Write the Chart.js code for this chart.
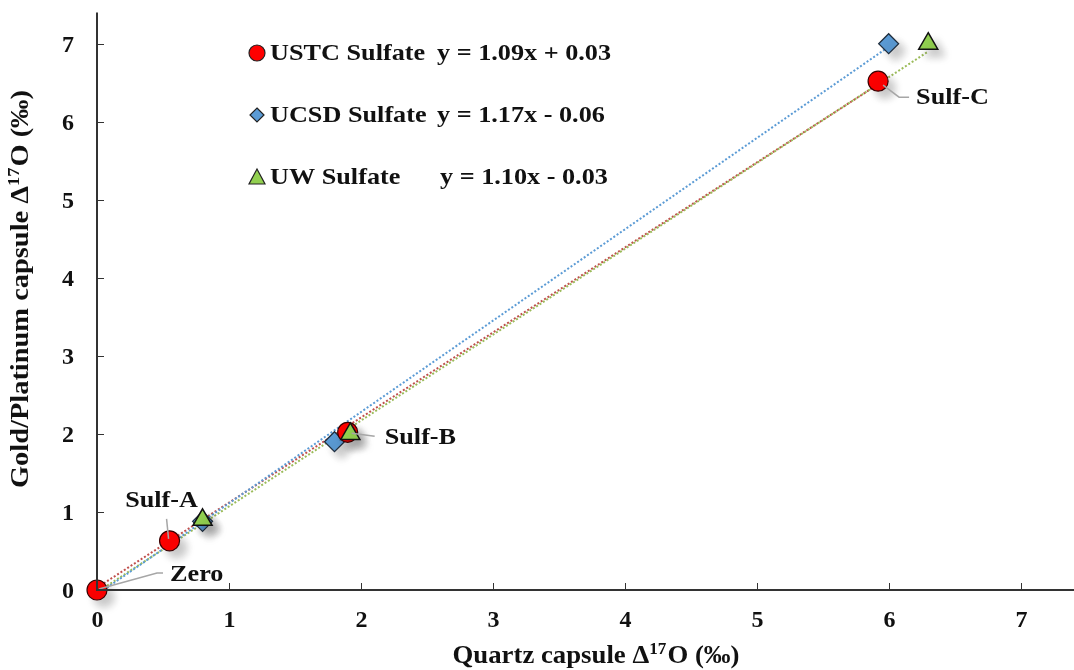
<!DOCTYPE html>
<html>
<head>
<meta charset="utf-8">
<script src="https://cdn.jsdelivr.net/npm/chart.js@4"></script>
<style>
  body { margin: 0; background: #fff; }
</style>
</head>
<body>
<canvas id="chart" width="1074" height="670"></canvas>
<script>
// values
let ustcX = [0, 0.55, 1.9, 5.92];
let ustcY = [0, 0.63, 2.02, 6.52];
let ucsdX = [0.8, 1.8, 6.0];
let ucsdY = [0.88, 1.9, 7.0];
let uwX   = [0.8, 1.92, 6.3];
let uwY   = [0.9, 2.0, 7.0];

// trendline ends (start / end of each dotted line)
let ustcFitX = [0, 5.92];
let ustcFitY = [0.03, 6.48];
let ucsdFitX = [0, 6.0];
let ucsdFitY = [-0.06, 6.96];
let uwFitX   = [0, 6.3];
let uwFitY   = [-0.03, 6.9];

let legendNames = ["USTC Sulfate", "UCSD Sulfate", "UW Sulfate"];
let legendEqs   = ["y = 1.09x + 0.03", "y = 1.17x - 0.06", "y = 1.10x - 0.03"];
let sampleNames = ["Zero", "Sulf-A", "Sulf-B", "Sulf-C"];

let xTicks = [0, 1, 2, 3, 4, 5, 6, 7];
let yTicks = [0, 1, 2, 3, 4, 5, 6, 7];
let xTitle = ["Quartz capsule \u0394", "17", "O (\u2030)"];
let yTitle = ["Gold/Platinum capsule \u0394", "17", "O (\u2030)"];

const serif = "'Liberation Serif', 'Times New Roman', serif";

function pts(xs, ys){
    return xs.map((x, i) => ({x: x, y: ys[i]}));
}

// text drawn a bit wider than the font, like the picture
function wideText(ctx, txt, x, y, sx, align){
    ctx.save();
    const w = ctx.measureText(txt).width * sx;
    let x0 = x;
    if (align === 'center') x0 = x - w / 2;
    if (align === 'right') x0 = x - w;
    ctx.translate(x0, y);
    ctx.scale(sx, 1);
    ctx.textAlign = 'left';
    ctx.fillText(txt, 0, 0);
    ctx.restore();
}

// title with superscript, centred at (0,0) of the current transform, fit to a width
function titleText(ctx, parts, width){
    const big = "bold 25px " + serif, small = "bold 16px " + serif;
    ctx.font = big;
    const w0 = ctx.measureText(parts[0]).width;
    const w2 = ctx.measureText(parts[2]).width;
    ctx.font = small;
    const w1 = ctx.measureText(parts[1]).width + 1;
    const total = w0 + w1 + w2;
    const sx = width / total;
    ctx.save();
    ctx.scale(sx, 1);
    let x = -total / 2;
    ctx.textAlign = 'left';
    ctx.textBaseline = 'middle';
    ctx.font = big;
    ctx.fillText(parts[0], x, 0);
    x += w0;
    ctx.font = small;
    ctx.fillText(parts[1], x, -7);
    x += w1;
    ctx.font = big;
    ctx.fillText(parts[2], x, 0);
    ctx.restore();
}

/**
 * soft grey shadow under the markers, like the office chart
 */
const shadowPlugin = {
    id: 'shadow',
    beforeDatasetDraw(chart, args){
        const ds = chart.data.datasets[args.index];
        chart.ctx.save();
        if (ds.isMarker) {
            chart.ctx.shadowColor = 'rgba(0,0,0,0.22)';
            chart.ctx.shadowBlur = 8;
            chart.ctx.shadowOffsetX = 7;
            chart.ctx.shadowOffsetY = 7;
        }
    },
    afterDatasetDraw(chart){
        chart.ctx.restore();
    }
};

// axis lines, inward ticks, tick labels and titles
const axisPlugin = {
    id: 'axisTicks',
    afterDraw(chart){
        const ctx = chart.ctx;
        const xs = chart.scales.x, ys = chart.scales.y;
        const area = chart.chartArea;
        ctx.save();
        ctx.strokeStyle = '#333';
        ctx.lineWidth = 2;
        ctx.beginPath();
        ctx.moveTo(area.left, area.top);
        ctx.lineTo(area.left, area.bottom);
        ctx.lineTo(chart.width, area.bottom);
        ctx.stroke();
        ctx.lineWidth = 1;
        ctx.fillStyle = '#111';
        ctx.font = "bold 24px " + serif;
        ctx.textBaseline = 'middle';
        xTicks.forEach(v => {
            const p = Math.round(xs.getPixelForValue(v)) + 0.5;
            wideText(ctx, String(v), p, area.bottom + 31, 1.0, 'center');
            if (v === 0) return;
            ctx.beginPath();
            ctx.moveTo(p, area.bottom);
            ctx.lineTo(p, area.bottom - 7);
            ctx.stroke();
        });
        yTicks.forEach(v => {
            const p = Math.round(ys.getPixelForValue(v)) + 0.5;
            wideText(ctx, String(v), area.left - 23, p + 1, 1.0, 'right');
            if (v === 0) return;
            ctx.beginPath();
            ctx.moveTo(area.left, p);
            ctx.lineTo(area.left + 7, p);
            ctx.stroke();
        });

        ctx.save();
        ctx.translate(596, 657);
        titleText(ctx, xTitle, 287);
        ctx.restore();

        ctx.save();
        ctx.translate(22, 289);
        ctx.rotate(-Math.PI / 2);
        titleText(ctx, yTitle, 398);
        ctx.restore();
        ctx.restore();
    }
};

// sample names with grey leader lines, and the legend box with equations
const labelPlugin = {
    id: 'labels',
    afterDatasetsDraw(chart){
        const ctx = chart.ctx;
        const xs = chart.scales.x, ys = chart.scales.y;
        const px = v => xs.getPixelForValue(v);
        const py = v => ys.getPixelForValue(v);
        const sx = 1.14;
        ctx.save();
        ctx.font = "bold 23px " + serif;
        ctx.fillStyle = '#111';
        ctx.textBaseline = 'middle';
        ctx.strokeStyle = '#a6a6a6';
        ctx.lineWidth = 1.5;

        // Zero
        let ax = px(ustcX[0]), ay = py(ustcY[0]);
        ctx.beginPath();
        ctx.moveTo(ax + 2, ay - 1);
        ctx.lineTo(ax + 60, ay - 17);
        ctx.lineTo(ax + 66, ay - 17);
        ctx.stroke();
        wideText(ctx, sampleNames[0], ax + 73, ay - 15, sx, 'left');

        // Sulf-A
        ax = px(ustcX[1]); ay = py(ustcY[1]);
        ctx.beginPath();
        ctx.moveTo(ax - 1, ay - 2);
        ctx.lineTo(ax - 3, ay - 22);
        ctx.stroke();
        wideText(ctx, sampleNames[1], ax - 8, ay - 40, sx, 'center');

        // Sulf-B
        ax = px(ustcX[2]); ay = py(ustcY[2]);
        ctx.beginPath();
        ctx.moveTo(ax + 4, ay + 1);
        ctx.lineTo(ax + 27, ay + 4);
        ctx.stroke();
        wideText(ctx, sampleNames[2], ax + 37, ay + 6, sx, 'left');

        // Sulf-C
        ax = px(ustcX[3]); ay = py(ustcY[3]);
        ctx.beginPath();
        ctx.moveTo(ax + 5, ay + 4);
        ctx.lineTo(ax + 21, ay + 16);
        ctx.lineTo(ax + 31, ay + 16);
        ctx.stroke();
        wideText(ctx, sampleNames[3], ax + 38, ay + 17, sx, 'left');

        // legend
        const lx = 257, rows = [53, 115, 177];
        rows.forEach((ry, i) => {
            ctx.lineWidth = 1.2;
            ctx.strokeStyle = '#222';
            ctx.beginPath();
            if (i === 0) {
                ctx.fillStyle = '#ff0000';
                ctx.arc(lx, ry, 8, 0, Math.PI * 2);
            } else if (i === 1) {
                ctx.fillStyle = '#5b9bd5';
                ctx.moveTo(lx, ry - 7);
                ctx.lineTo(lx + 7, ry);
                ctx.lineTo(lx, ry + 7);
                ctx.lineTo(lx - 7, ry);
                ctx.closePath();
            } else {
                ctx.fillStyle = '#92d050';
                ctx.moveTo(lx, ry - 8);
                ctx.lineTo(lx + 8, ry + 7);
                ctx.lineTo(lx - 8, ry + 7);
                ctx.closePath();
            }
            ctx.fill();
            ctx.stroke();
            ctx.fillStyle = '#111';
            wideText(ctx, legendNames[i], 270, ry + 1, sx, 'left');
            wideText(ctx, legendEqs[i], i === 2 ? 440 : 437, ry + 1, sx, 'left');
        });
        ctx.restore();
    }
};

function MakeChart(){
    const ctx = document.getElementById('chart').getContext('2d');

    const noPad = s => {
        s.paddingTop = 0; s.paddingBottom = 0;
        s.paddingLeft = 0; s.paddingRight = 0;
    };

    const chart = new Chart(ctx, {
        type: 'scatter',
        data: {
            datasets: [
                {
                    label: 'UW fit', type: 'line', data: pts(uwFitX, uwFitY),
                    borderColor: '#9bbb59', borderWidth: 2, borderDash: [2, 2],
                    pointRadius: 0, fill: false, order: 5
                },
                {
                    label: 'UCSD fit', type: 'line', data: pts(ucsdFitX, ucsdFitY),
                    borderColor: '#5b9bd5', borderWidth: 2, borderDash: [2, 2],
                    pointRadius: 0, fill: false, order: 4
                },
                {
                    label: 'USTC fit', type: 'line', data: pts(ustcFitX, ustcFitY),
                    borderColor: '#c0504d', borderWidth: 2, borderDash: [2, 2],
                    pointRadius: 0, fill: false, order: 6
                },
                {
                    label: legendNames[1], data: pts(ucsdX, ucsdY), isMarker: true,
                    pointStyle: 'rectRot', pointRadius: 10,
                    backgroundColor: '#5b9bd5', borderColor: '#1f2d3d', borderWidth: 1.2,
                    order: 3
                },
                {
                    label: legendNames[0], data: pts(ustcX, ustcY), isMarker: true,
                    pointStyle: 'circle', pointRadius: 10,
                    backgroundColor: '#ff0000', borderColor: '#3a0000', borderWidth: 1.2,
                    order: 2
                },
                {
                    label: legendNames[2], data: pts(uwX, uwY), isMarker: true,
                    pointStyle: 'triangle', pointRadius: 11,
                    backgroundColor: '#92d050', borderColor: '#111', borderWidth: 1.5,
                    order: 1
                }
            ]
        },
        options: {
            responsive: false,
            animation: false,
            devicePixelRatio: 1,
            clip: false,
            layout: { padding: { top: 12, right: 0, left: 0, bottom: 0 } },
            plugins: {
                legend: { display: false },
                tooltip: { enabled: false }
            },
            scales: {
                x: {
                    type: 'linear', min: 0, max: 7.31,
                    afterFit: s => { noPad(s); s.height = 80; },
                    grid: { display: false },
                    border: { display: false },
                    ticks: { display: false },
                    title: { display: false }
                },
                y: {
                    type: 'linear', min: 0, max: 7.4,
                    afterFit: s => { noPad(s); s.width = 97; },
                    grid: { display: false },
                    border: { display: false },
                    ticks: { display: false },
                    title: { display: false }
                }
            }
        },
        plugins: [shadowPlugin, axisPlugin, labelPlugin]
    });
}

MakeChart();
</script>
</body>
</html>
